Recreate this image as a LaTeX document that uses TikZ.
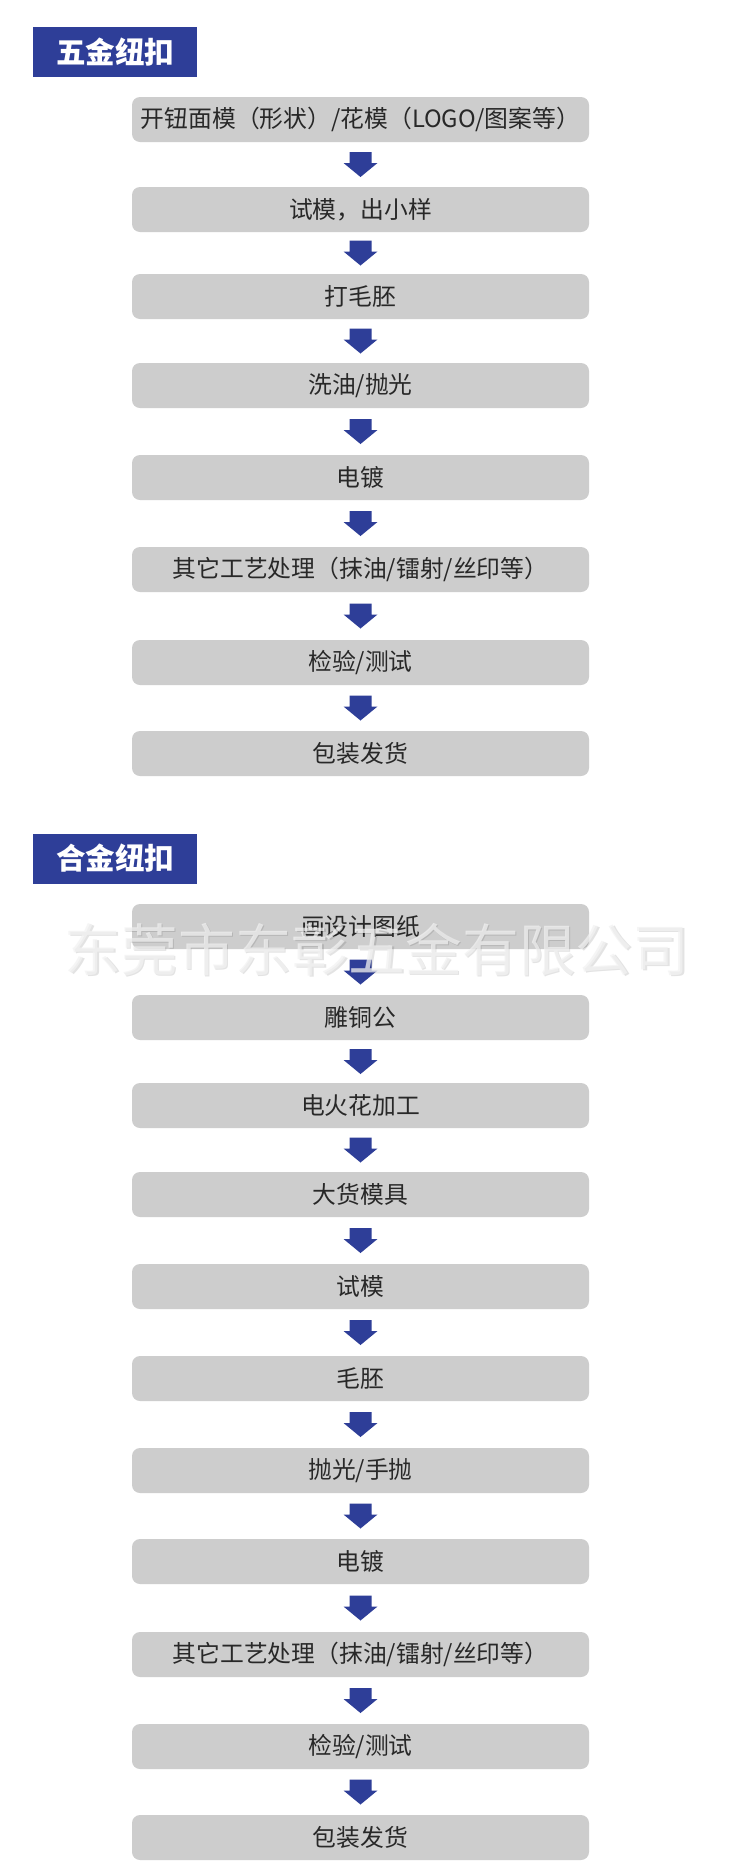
\documentclass[tikz,border=0pt]{standalone}
\usepackage{fontspec}
\setmainfont{Noto Sans CJK SC}
\usetikzlibrary{calc}
\definecolor{hdrblue}{RGB}{46,62,152}
\definecolor{boxgray}{RGB}{205,205,205}
\definecolor{txtdark}{RGB}{40,40,40}
\tikzset{
  stepbox/.style={fill=boxgray, rounded corners=8pt, minimum width=457pt, minimum height=45pt, inner sep=0pt, text=txtdark, font=\fontsize{23.8}{27}\selectfont},
  hdrbox/.style={fill=hdrblue, minimum width=164pt, minimum height=50pt, inner sep=0pt, text=white, font=\fontsize{29.5}{32}\selectfont\bfseries},
  flowarrow/.style={fill=hdrblue},
  wmark/.style={font=\fontsize{56.8}{60}\selectfont},
}
\newcommand{\flowarr}[2]{%
  \path ($(#1.south)!0.5!(#2.north)$) coordinate (m#1);
  \fill[flowarrow] ([shift={(-11,-12.5)}]m#1) -- ++(22,0) -- ++(0,11) -- ++(6,0) -- ++(-17,14) -- ++(-17,-14) -- ++(6,0) -- cycle;
}
\begin{document}
\begin{tikzpicture}[x=1pt,y=-1pt]
\useasboundingbox[fill=white] (0,0) rectangle (750,1874);
% section 1
\node[hdrbox] (h1) at (115,52) {五金纽扣};
\node[stepbox] (a1) at (360.5,119.5) {开钮面模（形状）/花模（LOGO/图案等）};
\node[stepbox] (a2) at (360.5,209.5) {试模，出小样};
\node[stepbox] (a3) at (360.5,296.5) {打毛胚};
\node[stepbox] (a4) at (360.5,385.5) {洗油/抛光};
\node[stepbox] (a5) at (360.5,477.5) {电镀};
\node[stepbox] (a6) at (360.5,569.5) {其它工艺处理（抹油/镭射/丝印等）};
\node[stepbox] (a7) at (360.5,662.5) {检验/测试};
\node[stepbox] (a8) at (360.5,753.5) {包装发货};
\flowarr{a1}{a2}\flowarr{a2}{a3}\flowarr{a3}{a4}\flowarr{a4}{a5}
\flowarr{a5}{a6}\flowarr{a6}{a7}\flowarr{a7}{a8}
% section 2
\node[hdrbox] (h2) at (115,858.5) {合金纽扣};
\node[stepbox] (b1) at (360.5,926.5) {画设计图纸};
\node[stepbox] (b2) at (360.5,1017.5) {雕铜公};
\node[stepbox] (b3) at (360.5,1105.5) {电火花加工};
\node[stepbox] (b4) at (360.5,1194.5) {大货模具};
\node[stepbox] (b5) at (360.5,1286.5) {试模};
\node[stepbox] (b6) at (360.5,1378.5) {毛胚};
\node[stepbox] (b7) at (360.5,1470.5) {抛光/手抛};
\node[stepbox] (b8) at (360.5,1561.5) {电镀};
\node[stepbox] (b9) at (360.5,1654.5) {其它工艺处理（抹油/镭射/丝印等）};
\node[stepbox] (b10) at (360.5,1746.5) {检验/测试};
\node[stepbox] (b11) at (360.5,1837.5) {包装发货};
\flowarr{b1}{b2}\flowarr{b2}{b3}\flowarr{b3}{b4}\flowarr{b4}{b5}\flowarr{b5}{b6}
\flowarr{b6}{b7}\flowarr{b7}{b8}\flowarr{b8}{b9}\flowarr{b9}{b10}\flowarr{b10}{b11}
% watermark
\node[wmark, text=black, opacity=0.11] (wms) at (378.5,951) {东莞市东彰五金有限公司};
\node[wmark, text=black!5, opacity=0.75] (wm) at (377,949.5) {东莞市东彰五金有限公司};
\end{tikzpicture}
\end{document}
